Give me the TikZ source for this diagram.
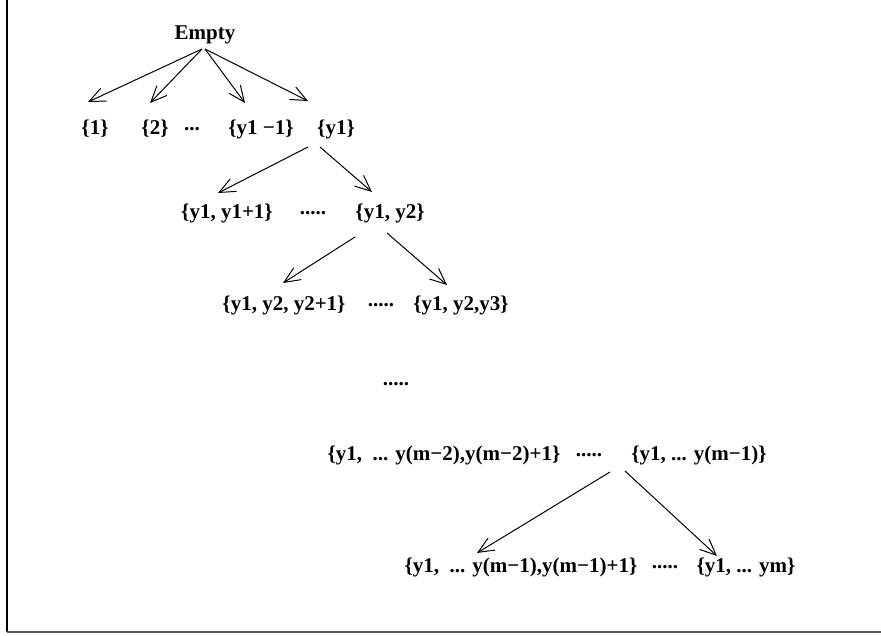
\documentclass[tikz,border=0pt]{standalone}
\usepackage{fontspec}
\setmainfont{Liberation Serif}
\usetikzlibrary{arrows.meta,calc}
\begin{document}
\begin{tikzpicture}[x=1pt,y=-1pt,
  lbl/.style={inner sep=0pt,font=\fontsize{21}{25}\selectfont\bfseries},
  arr/.style={line width=1pt,-{Straight Barb[length=16pt,width=14pt,line width=1pt]}}]
\useasboundingbox (0,0) rectangle (881,636);
\draw[line width=1.5pt] (7,0) -- (7,632);
\draw[line width=2pt,black!65] (7,632) -- (881,632);
% nodes
\node[lbl] (empty) at (205,35) {Empty};
\node[lbl] (n1) at (95,129) {\{1\}};
\node[lbl] (n2) at (155,129) {\{2\}};
\node[lbl] (d1) at (192,129) {...};
\node[lbl] (ny1m) at (261,129) {\{y1 −1\}};
\node[lbl] (ny1) at (336,129) {\{y1\}};
\node[lbl] (a) at (227,213) {\{y1, y1+1\}};
\node[lbl] (d2) at (313,213) {.....};
\node[lbl] (b) at (390,213) {\{y1, y2\}};
\node[lbl] (c) at (284,305) {\{y1, y2, y2+1\}};
\node[lbl] (d3) at (381,305) {.....};
\node[lbl] (d) at (461,305) {\{y1, y2,y3\}};
\node[lbl] (d4) at (396,384) {.....};
\node[lbl] (e) at (444,455) {\{y1,\ \ ... y(m−2),y(m−2)+1\}};
\node[lbl] (d5) at (589,455) {.....};
\node[lbl] (f) at (699,455) {\{y1, ... y(m−1)\}};
\node[lbl] (g) at (521,567) {\{y1,\ \ ... y(m−1),y(m−1)+1\}};
\node[lbl] (d6) at (665,567) {.....};
\node[lbl] (h) at (746,567) {\{y1, ... ym\}};
% arrows
\draw[arr] ($(empty)+(-3,14)$) -- ($(n1)+(-7,-27)$);
\draw[arr] ($(empty)+(-3,14)$) -- ($(n2)+(-5,-26)$);
\draw[arr] ($(empty)+(0,14)$) -- ($(ny1m)+(-16,-26)$);
\draw[arr] ($(empty)+(0,14)$) -- ($(ny1)+(-28,-28)$);
\draw[arr] ($(ny1)+(-28,18)$) -- ($(a)+(-9,-20)$);
\draw[arr] ($(ny1)+(-16,18)$) -- ($(b)+(-18,-21)$);
\draw[arr] ($(b)+(-35,24)$) -- ($(c)+(-1,-22)$);
\draw[arr] ($(b)+(-3,20)$) -- ($(d)+(-14,-20)$);
\draw[arr] ($(f)+(-89,17)$) -- ($(g)+(-44,-14)$);
\draw[arr] ($(f)+(-74,16)$) -- ($(h)+(-29,-11)$);
\end{tikzpicture}
\end{document}
